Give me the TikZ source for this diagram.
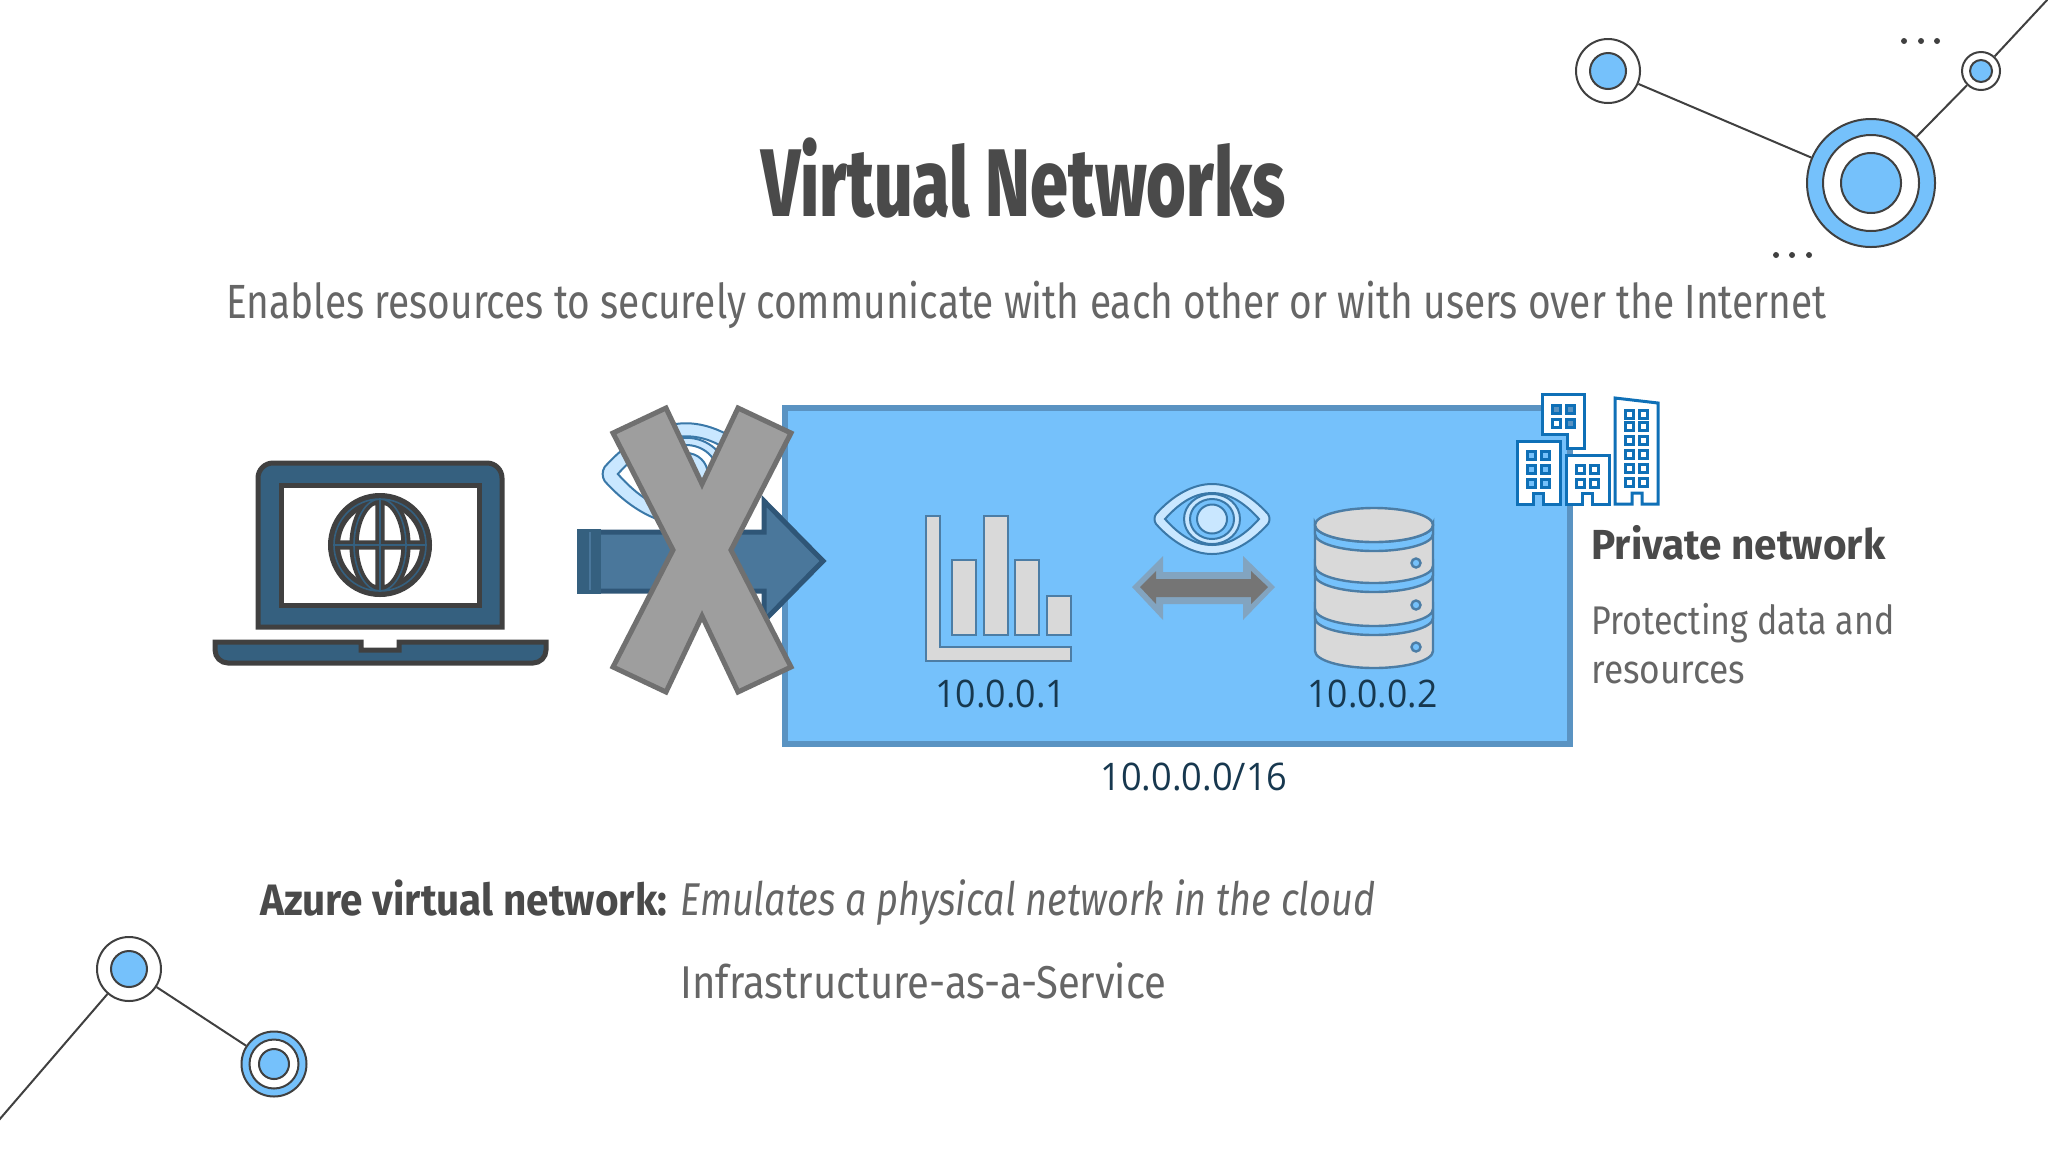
\documentclass[tikz,border=0pt]{standalone}
\usepackage{fontspec}
\setmainfont{Fira Sans}
\newfontfamily\lightf{Fira Sans}
\newfontfamily\heavyf{Fira Sans ExtraBold}
\newfontfamily\ipf{Open Sans}
\definecolor{boxfill}{HTML}{75C1FB}
\definecolor{boxline}{HTML}{5A93C2}
\definecolor{ink}{HTML}{404040}
\definecolor{head}{HTML}{4A4A4A}
\definecolor{txt}{HTML}{666666}
\definecolor{navy}{HTML}{35607F}
\definecolor{arrfill}{HTML}{4A779B}
\definecolor{arrline}{HTML}{2F5677}
\definecolor{eyefill}{HTML}{C9E7FF}
\definecolor{eyeline}{HTML}{3A78A8}
\definecolor{graybar}{HTML}{D9D9D9}
\definecolor{bldg}{HTML}{0F70B7}
\definecolor{iptxt}{HTML}{17384F}
\newcommand\fitw[2]{\resizebox{#1}{\height}{#2}}
\newcommand\eyeicon[4]{%
\begin{scope}[shift={(#1,#2)},scale=#3,line width=1pt]
\fill[eyefill,draw=eyeline] (-56,-5) .. controls (-38,-25) and (-18,-35) .. (0,-35) .. controls (18,-35) and (38,-25) .. (56,-5) .. controls (58,-2) and (58,2) .. (56,5) .. controls (38,25) and (18,35) .. (0,35) .. controls (-18,35) and (-38,25) .. (-56,5) .. controls (-58,2) and (-58,-2) .. (-56,-5) -- cycle;
\fill[#4,draw=eyeline] (-47,0) .. controls (-30,-19) and (-15,-26) .. (0,-26) .. controls (15,-26) and (30,-19) .. (47,0) .. controls (30,19) and (15,26) .. (0,26) .. controls (-15,26) and (-30,19) .. (-47,0) -- cycle;
\fill[eyefill,draw=eyeline] (0,0) ellipse [x radius=28,y radius=25];
\fill[#4,draw=eyeline] (0,0) ellipse [x radius=22,y radius=20];
\fill[eyefill,draw=eyeline] (0,0) ellipse [x radius=15,y radius=14.5];
\end{scope}}
\newcommand\win[3]{\draw[bldg,line width=1.5pt,fill=#3] (#1,#2) rectangle +(8,8);}
\tikzset{
  ring/.style={circle,draw=ink,line width=1pt,inner sep=0pt,fill=#1},
  ring/.default=white,
  link/.style={draw=ink,line width=1pt},
  dotmark/.style={circle,fill=ink,inner sep=0pt,minimum size=3pt},
  label/.style={inner sep=0pt,anchor=base west,text=txt},
  iplabel/.style={inner sep=0pt,anchor=base west,text=iptxt},
  barbox/.style={fill=graybar,draw=boxline!85!black,line width=1.2pt},
  tower/.style={fill=white,draw=bldg,line width=1.5pt},
  laptop/.style={fill=navy,draw=ink,line width=2.5pt},
}
\begin{document}
\begin{tikzpicture}[x=0.5pt,y=-0.5pt]
\useasboundingbox (0,0) rectangle (2048,1152);

% decorative network, top right
\coordinate (cornerTR) at (2048,-1);
\node[ring=boxfill,minimum size=64pt] (bigO) at (1871,183) {};
\node[ring,minimum size=48pt] (bigM) at (1871,183) {};
\node[ring=boxfill,minimum size=30pt] (bigI) at (1871,183) {};
\node[ring,minimum size=32pt] (leftO) at (1608,71) {};
\node[ring=boxfill,minimum size=18pt] (leftI) at (1608,71) {};
\node[ring,minimum size=19pt] (smallO) at (1981,71) {};
\node[ring=boxfill,minimum size=11pt] (smallI) at (1981,71) {};
\draw[link] (leftO) -- (bigO);
\draw[link] (bigO) -- (smallO);
\draw[link] (smallO) -- (cornerTR);
\node[dotmark] (d1) at (1904,41) {};
\node[dotmark] (d2) at (1921,41) {};
\node[dotmark] (d3) at (1937,41) {};
\node[dotmark] (d4) at (1776,255) {};
\node[dotmark] (d5) at (1792,255) {};
\node[dotmark] (d6) at (1809,255) {};

% decorative network, bottom left
\coordinate (cornerBL) at (-1,1120);
\node[ring,minimum size=32pt] (blO) at (129,969) {};
\node[ring=boxfill,minimum size=18pt] (blI) at (129,969) {};
\node[ring=boxfill,minimum size=32.5pt] (brO) at (274,1064) {};
\node[ring,minimum size=24.5pt] (brM) at (274,1064) {};
\node[ring=boxfill,minimum size=15pt] (brI) at (274,1064) {};
\draw[link] (cornerBL) -- (blO);
\draw[link] (blO) -- (brO);

% titles
\node[label,text=head,font=\fontsize{48}{48}\heavyf] (title) at (761,216) {\fitw{262pt}{Virtual Networks}};
\node[label,font=\fontsize{24}{24}\lightf] (sub) at (226,318) {\fitw{800pt}{Enables resources to securely communicate with each other or with users over the Internet}};

% laptop
\draw[laptop] (258,627) -- (258,478) arc[start angle=180,end angle=270,radius=15] -- (487,463) arc[start angle=270,end angle=360,radius=15] -- (502,627) -- cycle;
\draw[fill=white,draw=ink,line width=2.5pt] (281,485) rectangle (479,605);
\draw[laptop] (215,642) -- (361,642) -- (361,650) -- (399,650) -- (399,642) -- (546,642) -- (546,650) arc[start angle=0,end angle=90,radius=13] -- (228,663) arc[start angle=90,end angle=180,radius=13] -- cycle;
\begin{scope}[shift={(380,545)}]
\draw[ink,line width=6pt] (0,0) circle (46);
\draw[ink,line width=4.6pt] (0,0) ellipse [x radius=26,y radius=46] (0,-46) -- (0,46) (-46,0) -- (46,0);
\draw[navy,line width=.8pt] (0,0) circle (46) (0,0) ellipse [x radius=26,y radius=46] (0,-46) -- (0,46) (-46,0) -- (46,0);
\end{scope}

% private network box
\draw[fill=boxfill,draw=boxline,line width=3pt] (785,408) rectangle (1570,744);

% hidden eye behind the arrow and the X
\eyeicon{686}{474}{1.45}{white}

% arrow
\draw[fill=arrfill,draw=arrline,line width=2.5pt,line join=miter] (580,532) -- (764,532) -- (764,501) -- (823,561) -- (764,621) -- (764,591) -- (580,591) -- cycle;
\fill[navy] (577,529) rectangle (601,594);
\draw[arrfill,line width=.6pt] (590,532) -- (590,590);

% X
\draw[fill=black!38,draw=black!56,line width=2.5pt,line join=miter] (666,408) -- (702,484) -- (738,408) -- (791,433) -- (731,550) -- (791,667) -- (738,692) -- (702,616) -- (666,692) -- (613,667) -- (673,550) -- (613,433) -- cycle;

% chart
\draw[barbox] (926,516) -- (940,516) -- (940,647) -- (1071,647) -- (1071,661) -- (926,661) -- cycle;
\draw[barbox] (952,560) rectangle (976,635);
\draw[barbox] (984,516) rectangle (1008,635);
\draw[barbox] (1015,560) rectangle (1039,635);
\draw[barbox] (1047,596) rectangle (1071,635);

% eye and double arrow
\eyeicon{1212}{519}{1}{boxfill}
\fill[black!15!boxline!70!white] (1132,587) -- (1163,556) -- (1163,572) -- (1243,572) -- (1243,556) -- (1275,587) -- (1243,620) -- (1243,604) -- (1163,604) -- (1163,620) -- cycle;
\fill[black!54] (1140,587) -- (1156,571) -- (1156,579) -- (1251,579) -- (1251,571) -- (1268,587) -- (1251,604) -- (1251,597) -- (1156,597) -- (1156,604) -- cycle;

% database
\begin{scope}[draw=boxline!85!black,line width=1.2pt]
\draw[fill=graybar] (1315,525) -- (1315,651) arc[start angle=180,end angle=0,x radius=59,y radius=17] -- (1433,525) arc[start angle=0,end angle=180,x radius=59,y radius=17] -- cycle;
\draw[fill=boxfill] (1315,525) arc[start angle=180,end angle=0,x radius=59,y radius=17] -- (1433,534) arc[start angle=0,end angle=180,x radius=59,y radius=17] -- cycle;
\draw[fill=boxfill] (1315,566) arc[start angle=180,end angle=0,x radius=59,y radius=17] -- (1433,575) arc[start angle=0,end angle=180,x radius=59,y radius=17] -- cycle;
\draw[fill=boxfill] (1315,609) arc[start angle=180,end angle=0,x radius=59,y radius=17] -- (1433,618) arc[start angle=0,end angle=180,x radius=59,y radius=17] -- cycle;
\draw[fill=graybar] (1374,525) ellipse [x radius=59,y radius=17];
\draw[fill=boxfill] (1416,563) circle (4.5);
\draw[fill=boxfill] (1416,605) circle (4.5);
\draw[fill=boxfill] (1416,647) circle (4.5);
\end{scope}

% buildings
\draw[tower] (1542,394) -- (1584,394) -- (1584,448) -- (1567,448) -- (1567,434) -- (1542,434) -- cycle;
\win{1552}{405}{boxline}\win{1566}{405}{boxline}\win{1552}{419}{white}\win{1566}{419}{boxline}
\draw[tower] (1517,504) -- (1517,441) -- (1560,441) -- (1560,504) -- (1543,504) -- (1543,493) -- (1533,493) -- (1533,504) -- cycle;
\foreach \wy in {451,465,479} {\win{1527}{\wy}{boxfill}\win{1541}{\wy}{boxfill}}
\draw[tower] (1566,504) -- (1566,455) -- (1609,455) -- (1609,504) -- (1592,504) -- (1592,493) -- (1582,493) -- (1582,504) -- cycle;
\foreach \wy in {465,479} {\win{1576}{\wy}{white}\win{1590}{\wy}{white}}
\draw[tower] (1615,504) -- (1615,398) -- (1658,403) -- (1658,504) -- (1642,504) -- (1642,493) -- (1632,493) -- (1632,504) -- cycle;
\foreach \wy in {410,422,436,450,464,478} {\win{1625}{\wy}{white}\win{1639}{\wy}{white}}

% labels
\node[iplabel,font=\fontsize{19}{19}\ipf] (ipa) at (935,707) {\fitw{65.5pt}{10.0.0.1}};
\node[iplabel,font=\fontsize{19}{19}\ipf] (ipb) at (1307,707) {\fitw{65pt}{10.0.0.2}};
\node[iplabel,font=\fontsize{19}{19}\ipf] (net) at (1100,790) {\fitw{93.5pt}{10.0.0.0/16}};
\node[label,text=head,font=\fontsize{21}{21}\selectfont\bfseries] (priv) at (1591,559) {\fitw{147pt}{Private network}};
\node[label,font=\fontsize{20}{20}\lightf] (prot) at (1591,634) {\fitw{151.5pt}{Protecting data and}};
\node[label,font=\fontsize{20}{20}\lightf] (res) at (1591,683) {\fitw{77pt}{resources}};
\node[label,text=head,font=\fontsize{22}{22}\selectfont\bfseries] (azure) at (260,915) {\fitw{203.5pt}{Azure virtual network:}};
\node[label,font=\fontsize{23}{23}\lightf\itshape] (emu) at (680,915) {\fitw{347.5pt}{Emulates a physical network in the cloud}};
\node[label,font=\fontsize{23}{23}\lightf] (iaas) at (680,998) {\fitw{243pt}{Infrastructure-as-a-Service}};
\end{tikzpicture}
\end{document}
